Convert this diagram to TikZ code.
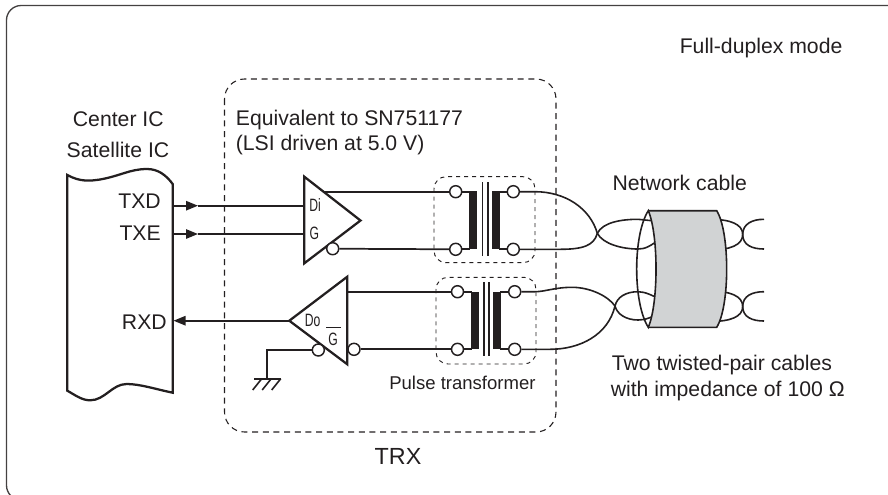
\documentclass[tikz,border=0pt]{standalone}
\usepackage{fontspec}
\setmainfont{Liberation Sans}
\usetikzlibrary{arrows.meta}

\definecolor{inkcol}{HTML}{231F20}
\definecolor{shieldcol}{HTML}{D1D3D4}

\newcommand{\narrowtxt}[1]{\scalebox{.68}[1]{#1}}

\tikzset{
  lab/.style={font=\fontsize{15.9}{18}\selectfont, text=inkcol, inner sep=0pt},
  smalllab/.style={font=\fontsize{13.9}{16}\selectfont, text=inkcol, inner sep=0pt},
  pinlab/.style={font=\fontsize{13.4}{16}\selectfont, text=inkcol, inner sep=0pt},
  term/.style={circle, draw=inkcol, fill=white, line width=1.1pt, minimum size=9pt, inner sep=0pt},
  sig/.style={draw=inkcol, line width=1.3pt},
  body/.style={draw=inkcol, line width=1.7pt, line join=miter},
  wire/.style={draw=inkcol, line width=1.2pt},
  trxbox/.style={draw=inkcol, line width=.8pt, dash pattern=on 4.5pt off 3.5pt, rounded corners=15pt},
  pulsebox/.style={draw=inkcol, line width=.7pt, dash pattern=on 3pt off 3pt, rounded corners=9pt},
  sigtip/.style={-{Triangle[length=9pt, width=7pt]}, shorten >=0pt}
}

\begin{document}
\begin{tikzpicture}[x=0.75pt, y=-0.75pt]

  \clip (0,0) rectangle (888,494);

  % outer frame, cut by the page on two sides
  \draw[draw=inkcol!85, line width=1pt, rounded corners=11pt] (6.5,5.5) rectangle (905,500);

  % dashed boxes
  \draw[trxbox] (224.5,79) rectangle (556,432);
  \draw[pulsebox] (434,176.7) rectangle (535,262.7);
  \draw[pulsebox] (436,277.3) rectangle (536,364);

  % draw IC
  \draw[body] (67.3,175) .. controls (80,182) and (90,181) .. (100,179.5)
    .. controls (120,176) and (130,169) .. (147,169)
    .. controls (158,169) and (166,175) .. (172.7,184)
    -- (172.7,392.7) .. controls (155,389) and (140,384) .. (126.7,384)
    .. controls (112,384) and (105,400.3) .. (90,400.3)
    .. controls (82,400.3) and (75,395) .. (67.3,390.7) -- cycle;

  % terminals of the upper transformer
  \node[term] (ta1) at (455.7,191.7) {};
  \node[term] (tb1) at (455.7,249.3) {};
  \node[term] (tc1) at (513.3,191.7) {};
  \node[term] (td1) at (513.3,249.3) {};

  % terminals of the lower transformer
  \node[term] (ta2) at (457.5,291.7) {};
  \node[term] (tb2) at (457.5,349.3) {};
  \node[term] (tc2) at (514.7,291.7) {};
  \node[term] (td2) at (514.7,349.3) {};

  % draw upper driver
  \coordinate (dtop) at (304.3,176.7);
  \coordinate (dbot) at (304.3,263.3);
  \coordinate (dtip) at (360.5,220.5);
  \coordinate (dout) at (323,191.7);
  \coordinate (txdin) at (304.3,205.7);
  \coordinate (txein) at (304.3,234);
  \draw[sig] (dout) -- (ta1);
  \draw[body] (dtop) -- (dtip) -- (dbot) -- cycle;
  \node[term] (dbub) at (332.7,248.7) {};
  \draw[sig] (dbub) -- (tb1);

  % draw lower receiver
  \coordinate (rtop) at (347.3,276.7);
  \coordinate (rbot) at (347.3,364.3);
  \coordinate (rtip) at (289.3,320.7);
  \coordinate (rout) at (347.3,291.7);
  \draw[body] (rtop) -- (rtip) -- (rbot) -- cycle;
  \draw[sig] (rout) -- (ta2);
  \node[term] (rbub) at (354,349.3) {};
  \node[term] (gbub) at (318.3,350) {};
  \draw[sig] (rbub) -- (tb2);

  % draw ground
  \coordinate (gndk) at (267,350);
  \coordinate (gnd) at (267,378.7);
  \draw[sig] (gbub) -- (gndk) -- (gnd);
  \draw[wire] (254,378.7) -- (280.7,378.7);
  \foreach \hx in {261.7,271.2,280.7} {
    \draw[wire] (\hx,378.7) -- (\hx-9,390);
  }

  % draw signals
  \coordinate (txd) at (172.7,205.7);
  \coordinate (txe) at (172.7,234);
  \coordinate (rxd) at (173.5,320.7);
  \coordinate (txdhead) at (198,205.7);
  \coordinate (txehead) at (198,234);
  \draw[sig, sigtip] (txd) -- (txdhead);
  \draw[sig] (txdhead) -- (txdin);
  \draw[sig, sigtip] (txe) -- (txehead);
  \draw[sig] (txehead) -- (txein);
  \draw[sig, sigtip] (rtip) -- (rxd);

  % draw transformer cores
  \foreach \xa/\xb/\xc/\xd/\xe/\ya/\yb/\yc/\yd in {
    469.3/477.3/482.3/487.7/492/191/249/182.3/256,
    471/479/484/489/493.3/291.5/349/282.3/356} {
    \fill[inkcol] (\xa,\ya) rectangle (\xb,\yb);
    \fill[inkcol] (\xe,\ya) rectangle (\xe+8,\yb);
    \draw[wire] (\xc,\yc) -- (\xc,\yd);
    \draw[wire] (\xd,\yc) -- (\xd,\yd);
  }
  \draw[sig] (ta1) -- (470,191.7);
  \draw[sig] (tb1) -- (470,249.3);
  \draw[sig] (tc1) -- (499,191.7);
  \draw[sig] (td1) -- (499,249.3);
  \draw[sig] (ta2) -- (472,291.7);
  \draw[sig] (tb2) -- (472,349.3);
  \draw[sig] (tc2) -- (500,291.7);
  \draw[sig] (td2) -- (500,349.3);

  % draw twisted pairs
  \coordinate (xa) at (597.3,233.3);
  \coordinate (xb) at (615,306);
  \coordinate (xc) at (742.7,234.5);
  \coordinate (xd) at (742.7,306.5);
  \draw[wire] (tc1) -- (535,191.7) .. controls (565,191.7) and (590,208) .. (xa);
  \draw[wire] (td1) -- (560,249.3) .. controls (582,249.3) and (594,246) .. (xa);
  \draw[wire] (xa) .. controls (603,222) and (622,219.3) .. (638,219.3) -- (665,222);
  \draw[wire] (xa) .. controls (603,244) and (622,249) .. (638,249) .. controls (645,249) and (650,247) .. (665,235);
  \draw[wire] (tc2) -- (535,291.7) .. controls (545,291.7) and (555,287.3) .. (572,287.3) .. controls (590,287.3) and (608,296) .. (xb);
  \draw[wire] (td2) -- (550,349.3) .. controls (580,349.3) and (608,335) .. (xb);
  \draw[wire] (xb) .. controls (617,297) and (626,291.7) .. (638,291.7) .. controls (645,291.7) and (652,295) .. (665,302);
  \draw[wire] (xb) .. controls (617,314) and (626,320) .. (638,320) .. controls (645,320) and (652,318) .. (665,309);
  \draw[wire] (710,219.3) .. controls (730,219.3) and (742.7,224) .. (xc);
  \draw[wire] (710,250) .. controls (730,250) and (742.7,245) .. (xc);
  \draw[wire] (xc) .. controls (742.7,224) and (752,219.3) .. (764,219.3);
  \draw[wire] (xc) .. controls (742.7,245) and (752,249) .. (764,249);
  \draw[wire] (710,291) .. controls (730,291) and (742.7,296) .. (xd);
  \draw[wire] (710,321.5) .. controls (730,321.5) and (742.7,317) .. (xd);
  \draw[wire] (xd) .. controls (742.7,296) and (752,291.7) .. (764,291.7);
  \draw[wire] (xd) .. controls (742.7,317) and (752,321) .. (764,321);

  % draw cable shield
  \fill[shieldcol] (648.3,210.7) -- (716.7,210.7)
    .. controls (730,232) and (730,306) .. (716.7,327.3) -- (648.3,327.3)
    .. controls (658.6,303) and (658.6,235) .. (648.3,210.7) -- cycle;
  \draw[wire] (648.3,210.7) -- (716.7,210.7)
    .. controls (730,232) and (730,306) .. (716.7,327.3) -- (648.3,327.3);
  \draw[wire] (648.3,210.7) .. controls (632.8,235) and (632.8,303) .. (648.3,327.3)
    .. controls (658.6,303) and (658.6,235) .. (648.3,210.7) -- cycle;

  % texts
  \node[lab, anchor=base west] (mode) at (679.5,53.5) {Full-duplex mode};
  \node[lab, anchor=base] (center) at (118.3,126.7) {Center IC};
  \node[lab, anchor=base] (satellite) at (118,157.7) {Satellite IC};
  \node[lab, anchor=base west] (equiv) at (235.6,125) {Equivalent to SN751177};
  \node[lab, anchor=base west] (lsi) at (235.6,150.7) {(LSI driven at 5.0 V)};
  \node[lab, anchor=base east] (txdlab) at (161,208) {TXD};
  \node[lab, anchor=base east] (txelab) at (161,240.5) {TXE};
  \node[lab, anchor=base east] (rxdlab) at (167,329) {RXD};
  \node[lab, anchor=base west] (cable) at (612.3,190) {Network cable};
  \node[lab, anchor=base west] (pairs) at (611.5,370.7) {Two twisted-pair cables};
  \node[lab, anchor=base west] (imped) at (610.5,396.7) {with impedance of 100 Ω};
  \node[smalllab, anchor=base west] (pulse) at (389,389) {Pulse transformer};
  \node[lab, anchor=base, font=\fontsize{17.5}{20}\selectfont] (trx) at (398,464) {TRX};
  \node[pinlab, anchor=base] (dilab) at (315,211.7) {\narrowtxt{Di}};
  \node[pinlab, anchor=base] (glab) at (314.3,239.3) {\narrowtxt{G}};
  \node[pinlab, anchor=base] (dolab) at (312.7,326.7) {\narrowtxt{Do}};
  \node[pinlab, anchor=base] (gbarlab) at (333,345) {\narrowtxt{G}};
  \draw[draw=inkcol, line width=.7pt] (326,327.7) -- (340.7,327.7);
\end{tikzpicture}
\end{document}
